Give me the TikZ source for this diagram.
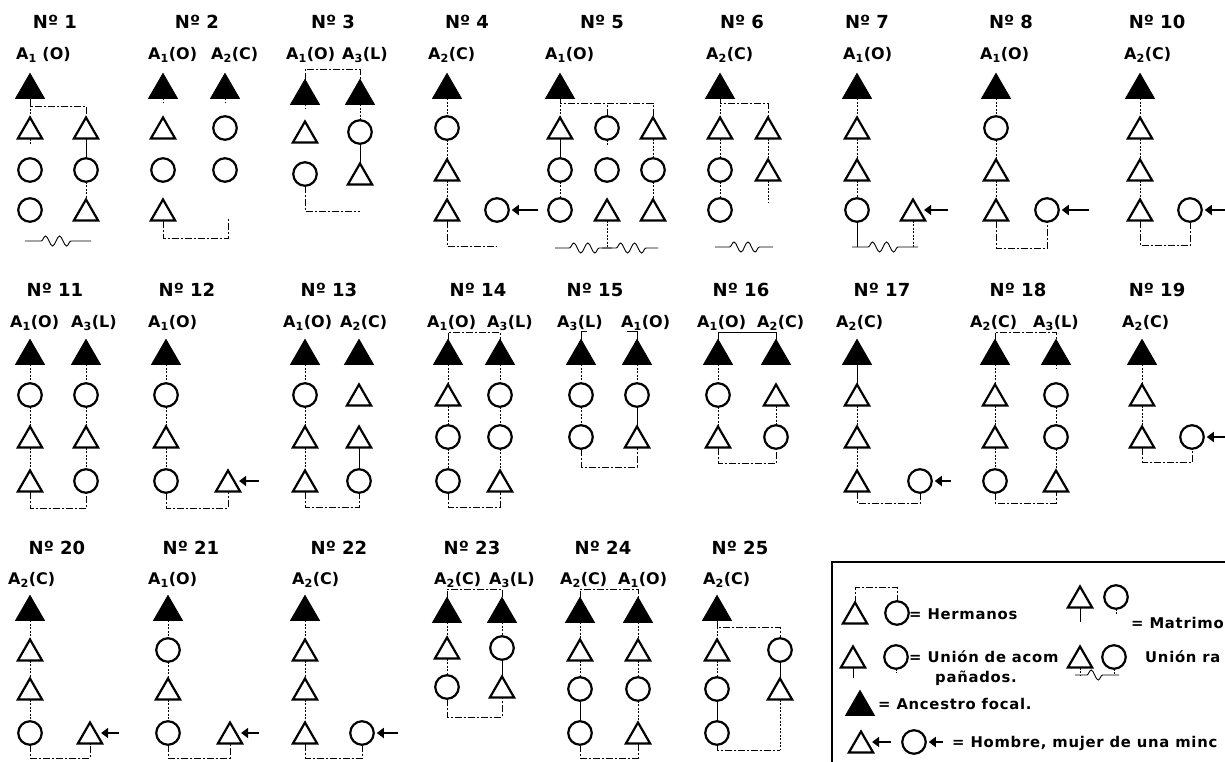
\documentclass[tikz,border=0pt]{standalone}
\usepackage{fontspec}
\setmainfont{DejaVu Sans}
\newfontfamily\legfont{DejaVu Sans}[LetterSpace=5]
\usetikzlibrary{shapes.geometric,arrows.meta,calc,decorations.pathmorphing}
\newcommand\wavyu[3]{%
  \draw[wv] ($(#1.south |- 0,#3)+(-5,0)$) -- ($(#1.south |- 0,#3)!0.2!(#2.south |- 0,#3)$)
    decorate[decoration={snake,amplitude=5pt,segment length=14pt}] {-- ($(#1.south |- 0,#3)!0.85!(#2.south |- 0,#3)$)}
    -- ($(#2.south |- 0,#3)+(5,0)$);}
\begin{document}
\begin{tikzpicture}[x=1pt,y=-1pt,
  fa/.style={regular polygon, regular polygon sides=3, fill=black, draw=black, line width=1pt, minimum size=33pt, inner sep=0pt, outer sep=0pt, yshift=-4.1pt},
  ta/.style={regular polygon, regular polygon sides=3, draw=black, line width=2.2pt, minimum size=28pt, inner sep=0pt, outer sep=0pt, yshift=-3.5pt},
  ci/.style={circle, draw=black, line width=2.2pt, minimum size=23.5pt, inner sep=0pt, outer sep=0pt},
  hdr/.style={font=\fontsize{18}{20}\selectfont\bfseries, inner sep=0pt},
  lab/.style={font=\fontsize{16}{18}\selectfont\bfseries, anchor=west, inner sep=0pt},
  leg/.style={font=\legfont\fontsize{14.8}{16}\selectfont\bfseries, anchor=west, inner sep=0pt},
  desc/.style={line width=0.7pt, dash pattern=on 2pt off 1.5pt},
  sol/.style={line width=0.8pt},
  tie/.style={line width=0.8pt, dash pattern=on 7pt off 2pt on 2pt off 2pt},
  wv/.style={line width=0.9pt},
  arr/.style={line width=2.6pt, -{Triangle[length=7pt,width=10pt]}, shorten >=3pt},
  box/.style={line width=1.3pt}]
\useasboundingbox (0,0) rectangle (1225,761);
\clip (0,0) rectangle (1225,761);
\fill[white] (0,0) rectangle (1225,761);

% ---------------- Row 1 ----------------
% N1
\node[hdr] (h1) at (55,22) {Nº 1};
\node[lab] (l1a) at (16,55) {A\textsubscript{1} (O)};
\node[fa] (d1a0) at (30,86) {};
\node[ta] (d1a1) at (30,128) {};
\node[ci] (d1a2) at (30,170) {};
\node[ci] (d1a3) at (30,210) {};
\node[ta] (d1b1) at (86,128) {};
\node[ci] (d1b2) at (86,170) {};
\node[ta] (d1b3) at (86,210) {};
\draw[desc] (d1a0.south) -- (d1a1.north);
\draw[tie] (d1a0.south) |- (d1b1.north |- 0,106) -- (d1b1.north);
\draw[desc] (d1a1.south) -- ++(0,5);
\draw[sol] (d1b1.south) -- (d1b2.north);
\draw[desc] (d1b2.south) -- (d1b3.north);
\wavyu{d1a3}{d1b3}{241}

% N2
\node[hdr] (h2) at (197,22) {Nº 2};
\node[lab] (l2a) at (148,55) {A\textsubscript{1}(O)};
\node[lab] (l2b) at (211,55) {A\textsubscript{2}(C)};
\node[fa] (d2a0) at (163,86) {};
\node[ta] (d2a1) at (163,128) {};
\node[ci] (d2a2) at (163,170) {};
\node[ta] (d2a3) at (163,210) {};
\node[fa] (d2b0) at (225,86) {};
\node[ci] (d2b1) at (225,128) {};
\node[ci] (d2b2) at (225,170) {};
\draw[desc] (d2a0.south) -- ++(0,4);
\draw[desc] (d2b0.south) -- ++(0,4);
\coordinate (d2e) at (228,218);
\draw[tie] (d2a3.south) |- (d2e |- 0,238) -- (d2e);

% N3
\node[hdr] (h3) at (333,22) {Nº 3};
\node[lab] (l3a) at (286,55) {A\textsubscript{1}(O)};
\node[lab] (l3b) at (342,55) {A\textsubscript{3}(L)};
\node[fa] (d3a0) at (305,92) {};
\node[ta] (d3a1) at (305,132) {};
\node[ci] (d3a2) at (305,174) {};
\node[fa] (d3b0) at (360,92) {};
\node[ci] (d3b1) at (360,132) {};
\node[ta] (d3b2) at (360,174) {};
\draw[tie] (d3a0.north) |- (d3b0.north |- 0,69) -- (d3b0.north);
\draw[desc] (d3a0.south) -- ++(0,4);
\draw[desc] (d3b0.south) -- (d3b1.north);
\draw[sol] (d3b1.south) -- (d3b2.north);
\draw[tie] (d3a2.south) |- (d3b2.south |- 0,211);

% N4
\node[hdr] (h4) at (467,22) {Nº 4};
\node[lab] (l4a) at (428,55) {A\textsubscript{2}(C)};
\node[fa] (d4a0) at (447,86) {};
\node[ci] (d4a1) at (447,128) {};
\node[ta] (d4a2) at (447,170) {};
\node[ta] (d4a3) at (447,210) {};
\node[ci] (d4x) at (497,210) {};
\coordinate (d4t) at (538,210);
\draw[arr] (d4t) -- (d4t -| d4x.east);
\draw[desc] (d4a0.south) -- (d4a1.north);
\draw[desc] (d4a1.south) -- (d4a2.north);
\draw[desc] (d4a2.south) -- (d4a3.north);
\draw[tie] (d4a3.south) |- (d4x.south |- 0,246);

% N5
\node[hdr] (h5) at (602,22) {Nº 5};
\node[lab] (l5a) at (545,55) {A\textsubscript{1}(O)};
\node[fa] (d5a0) at (560,86) {};
\node[ta] (d5a1) at (560,128) {};
\node[ci] (d5a2) at (560,170) {};
\node[ci] (d5a3) at (560,210) {};
\node[ci] (d5b1) at (607,128) {};
\node[ci] (d5b2) at (607,170) {};
\node[ta] (d5b3) at (607,210) {};
\node[ta] (d5c1) at (653,128) {};
\node[ci] (d5c2) at (653,170) {};
\node[ta] (d5c3) at (653,210) {};
\draw[desc] (d5a0.south) -- (d5a1.north);
\draw[tie] (d5a0.south) |- (d5c1.north |- 0,103) -- (d5c1.north);
\draw[tie] (d5b1.north) -- (d5b1.north |- 0,103);
\draw[sol] (d5a1.south) -- (d5a2.north);
\draw[desc] (d5a2.south) -- (d5a3.north);
\draw[desc] (d5b1.south) -- ++(0,5);
\draw[desc] (d5c1.south) -- (d5c2.north);
\draw[desc] (d5c2.south) -- (d5c3.north);
\draw[desc] (d5b3.south) -- (d5b3.south |- 0,248);
\wavyu{d5a3}{d5b3}{248}
\wavyu{d5b3}{d5c3}{248}

% N6
\node[hdr] (h6) at (742,22) {Nº 6};
\node[lab] (l6a) at (706,55) {A\textsubscript{2}(C)};
\node[fa] (d6a0) at (720,86) {};
\node[ta] (d6a1) at (720,128) {};
\node[ci] (d6a2) at (720,170) {};
\node[ci] (d6a3) at (720,210) {};
\node[ta] (d6b1) at (768,128) {};
\node[ta] (d6b2) at (768,170) {};
\draw[tie] (d6a0.south) |- (d6b1.north |- 0,103) -- (d6b1.north);
\draw[desc] (d6a0.south) -- (d6a1.north);
\draw[desc] (d6a1.south) -- (d6a2.north);
\draw[desc] (d6a2.south) -- (d6a3.north);
\draw[desc] (d6b1.south) -- (d6b2.north);
\draw[desc] (d6b2.south) -- ++(0,22);
\wavyu{d6a3}{d6b2}{247}

% N7
\node[hdr] (h7) at (867,22) {Nº 7};
\node[lab] (l7a) at (843,55) {A\textsubscript{1}(O)};
\node[fa] (d7a0) at (857,86) {};
\node[ta] (d7a1) at (857,128) {};
\node[ta] (d7a2) at (857,170) {};
\node[ci] (d7a3) at (857,210) {};
\node[ta] (d7x) at (913,210) {};
\coordinate (d7t) at (948,210);
\draw[arr] (d7t) -- (d7t -| d7x.east);
\draw[desc] (d7a0.south) -- (d7a1.north);
\draw[desc] (d7a1.south) -- (d7a2.north);
\draw[desc] (d7a2.south) -- (d7a3.north);
\draw[sol] (d7a3.south) -- (d7a3.south |- 0,247);
\draw[desc] (d7x.south) -- (d7x.south |- 0,247);
\wavyu{d7a3}{d7x}{247}

% N8
\node[hdr] (h8) at (1011,22) {Nº 8};
\node[lab] (l8a) at (980,55) {A\textsubscript{1}(O)};
\node[fa] (d8a0) at (996,86) {};
\node[ci] (d8a1) at (996,128) {};
\node[ta] (d8a2) at (996,170) {};
\node[ta] (d8a3) at (996,210) {};
\node[ci] (d8x) at (1047,210) {};
\coordinate (d8t) at (1089,210);
\draw[arr] (d8t) -- (d8t -| d8x.east);
\draw[desc] (d8a0.south) -- (d8a1.north);
\draw[desc] (d8a1.south) -- (d8a2.north);
\draw[desc] (d8a2.south) -- (d8a3.north);
\draw[tie] (d8a3.south) |- (d8x.south |- 0,248) -- (d8x.south);

% N10
\node[hdr] (h10) at (1157,22) {Nº 10};
\node[lab] (l10a) at (1124,55) {A\textsubscript{2}(C)};
\node[fa] (d10a0) at (1140,86) {};
\node[ta] (d10a1) at (1140,128) {};
\node[ta] (d10a2) at (1140,170) {};
\node[ta] (d10a3) at (1140,210) {};
\node[ci] (d10x) at (1190,210) {};
\coordinate (d10t) at (1232,210);
\draw[arr] (d10t) -- (d10t -| d10x.east);
\draw[desc] (d10a0.south) -- (d10a1.north);
\draw[desc] (d10a1.south) -- (d10a2.north);
\draw[desc] (d10a2.south) -- (d10a3.north);
\draw[tie] (d10a3.south) |- (d10x.south |- 0,245) -- (d10x.south);

% ---------------- Row 2 ----------------
% N11
\node[hdr] (h11) at (55,290) {Nº 11};
\node[lab] (l11a) at (10,323) {A\textsubscript{1}(O)};
\node[lab] (l11b) at (71,323) {A\textsubscript{3}(L)};
\node[fa] (d11a0) at (30,352) {};
\node[ci] (d11a1) at (30,395) {};
\node[ta] (d11a2) at (30,437) {};
\node[ta] (d11a3) at (30,481) {};
\node[fa] (d11b0) at (86,352) {};
\node[ci] (d11b1) at (86,395) {};
\node[ta] (d11b2) at (86,437) {};
\node[ci] (d11b3) at (86,481) {};
\draw[desc] (d11a0.south) -- (d11a1.north);
\draw[desc] (d11a1.south) -- (d11a2.north);
\draw[desc] (d11a2.south) -- (d11a3.north);
\draw[desc] (d11b0.south) -- (d11b1.north);
\draw[desc] (d11b1.south) -- (d11b2.north);
\draw[desc] (d11b2.south) -- (d11b3.north);
\draw[tie] (d11a3.south) |- (d11b3.south |- 0,508) -- (d11b3.south);

% N12
\node[hdr] (h12) at (187,290) {Nº 12};
\node[lab] (l12a) at (148,323) {A\textsubscript{1}(O)};
\node[fa] (d12a0) at (166,352) {};
\node[ci] (d12a1) at (166,395) {};
\node[ta] (d12a2) at (166,437) {};
\node[ci] (d12a3) at (166,481) {};
\node[ta] (d12x) at (228,481) {};
\coordinate (d12t) at (259,481);
\draw[arr] (d12t) -- (d12t -| d12x.east);
\draw[desc] (d12a0.south) -- (d12a1.north);
\draw[desc] (d12a1.south) -- (d12a2.north);
\draw[desc] (d12a2.south) -- (d12a3.north);
\draw[tie] (d12a3.south) |- (d12x.south |- 0,508) -- (d12x.south);

% N13
\node[hdr] (h13) at (329,290) {Nº 13};
\node[lab] (l13a) at (283,323) {A\textsubscript{1}(O)};
\node[lab] (l13b) at (340,323) {A\textsubscript{2}(C)};
\node[fa] (d13a0) at (305,352) {};
\node[ci] (d13a1) at (305,395) {};
\node[ta] (d13a2) at (305,437) {};
\node[ta] (d13a3) at (305,481) {};
\node[fa] (d13b0) at (359,352) {};
\node[ta] (d13b1) at (359,395) {};
\node[ta] (d13b2) at (359,437) {};
\node[ci] (d13b3) at (359,481) {};
\draw[desc] (d13a0.south) -- (d13a1.north);
\draw[desc] (d13a1.south) -- (d13a2.north);
\draw[desc] (d13a2.south) -- (d13a3.north);
\draw[sol] (d13b2.south) -- (d13b3.north);
\draw[tie] (d13a3.south) |- (d13b3.south |- 0,507) -- (d13b3.south);

% N14
\node[hdr] (h14) at (478,290) {Nº 14};
\node[lab] (l14a) at (427,323) {A\textsubscript{1}(O)};
\node[lab] (l14b) at (487,323) {A\textsubscript{3}(L)};
\node[fa] (d14a0) at (448,352) {};
\node[ta] (d14a1) at (448,395) {};
\node[ci] (d14a2) at (448,437) {};
\node[ci] (d14a3) at (448,481) {};
\node[fa] (d14b0) at (500,352) {};
\node[ci] (d14b1) at (500,395) {};
\node[ci] (d14b2) at (500,437) {};
\node[ta] (d14b3) at (500,481) {};
\draw[tie] (d14a0.north) |- (d14b0.north |- 0,332) -- (d14b0.north);
\draw[desc] (d14a0.south) -- (d14a1.north);
\draw[desc] (d14a1.south) -- (d14a2.north);
\draw[desc] (d14a2.south) -- (d14a3.north);
\draw[desc] (d14b0.south) -- (d14b1.north);
\draw[desc] (d14b1.south) -- (d14b2.north);
\draw[desc] (d14b2.south) -- (d14b3.north);
\draw[tie] (d14a3.south) |- (d14b3.south |- 0,507) -- (d14b3.south);

% N15
\node[hdr] (h15) at (595,290) {Nº 15};
\node[lab] (l15a) at (557,323) {A\textsubscript{3}(L)};
\node[lab] (l15b) at (621,323) {A\textsubscript{1}(O)};
\node[fa] (d15a0) at (581,352) {};
\node[ci] (d15a1) at (581,395) {};
\node[ci] (d15a2) at (581,437) {};
\node[fa] (d15b0) at (637,352) {};
\node[ci] (d15b1) at (637,395) {};
\node[ta] (d15b2) at (637,437) {};
\draw[sol] (d15a0.north) -- ++(0,-8) -- ++(6,0);
\draw[sol] (d15b0.north) -- ++(0,-8) -- ++(-10,0);
\draw[desc] (d15a0.south) -- (d15a1.north);
\draw[desc] (d15a1.south) -- (d15a2.north);
\draw[desc] (d15b0.south) -- (d15b1.north);
\draw[sol] (d15b1.south) -- (d15b2.north);
\draw[tie] (d15a2.south) |- (d15b2.south |- 0,467) -- (d15b2.south);

% N16
\node[hdr] (h16) at (741,290) {Nº 16};
\node[lab] (l16a) at (697,323) {A\textsubscript{1}(O)};
\node[lab] (l16b) at (757,323) {A\textsubscript{2}(C)};
\node[fa] (d16a0) at (718,352) {};
\node[ci] (d16a1) at (718,395) {};
\node[ta] (d16a2) at (718,437) {};
\node[fa] (d16b0) at (776,352) {};
\node[ta] (d16b1) at (776,395) {};
\node[ci] (d16b2) at (776,437) {};
\draw[sol] (d16a0.north) |- (d16b0.north |- 0,332) -- (d16b0.north);
\draw[desc] (d16a0.south) -- (d16a1.north);
\draw[desc] (d16a1.south) -- (d16a2.north);
\draw[desc] (d16b1.south) -- (d16b2.north);
\draw[tie] (d16a2.south) |- (d16b2.south |- 0,463) -- (d16b2.south);

% N17
\node[hdr] (h17) at (882,290) {Nº 17};
\node[lab] (l17a) at (836,323) {A\textsubscript{2}(C)};
\node[fa] (d17a0) at (857,352) {};
\node[ta] (d17a1) at (857,395) {};
\node[ta] (d17a2) at (857,437) {};
\node[ta] (d17a3) at (857,481) {};
\node[ci] (d17x) at (920,481) {};
\coordinate (d17t) at (951,481);
\draw[arr] (d17t) -- (d17t -| d17x.east);
\draw[sol] (d17a0.south) -- (d17a1.north);
\draw[desc] (d17a1.south) -- (d17a2.north);
\draw[desc] (d17a2.south) -- (d17a3.north);
\draw[tie] (d17a3.south) |- (d17x.south |- 0,503) -- (d17x.south);

% N18
\node[hdr] (h18) at (1018,290) {Nº 18};
\node[lab] (l18a) at (970,323) {A\textsubscript{2}(C)};
\node[lab] (l18b) at (1033,323) {A\textsubscript{3}(L)};
\node[fa] (d18a0) at (995,352) {};
\node[ta] (d18a1) at (995,395) {};
\node[ta] (d18a2) at (995,437) {};
\node[ci] (d18a3) at (995,481) {};
\node[fa] (d18b0) at (1056,352) {};
\node[ci] (d18b1) at (1056,395) {};
\node[ci] (d18b2) at (1056,437) {};
\node[ta] (d18b3) at (1056,481) {};
\draw[tie] (d18a0.north) |- (d18b0.north |- 0,332) -- (d18b0.north);
\draw[desc] (d18a0.south) -- (d18a1.north);
\draw[desc] (d18a1.south) -- (d18a2.north);
\draw[desc] (d18a2.south) -- (d18a3.north);
\draw[desc] (d18b0.south) -- ++(0,4);
\draw[desc] (d18b1.south) -- (d18b2.north);
\draw[desc] (d18b2.south) -- (d18b3.north);
\draw[tie] (d18a3.south) |- (d18b3.south |- 0,503) -- (d18b3.south);

% N19
\node[hdr] (h19) at (1157,290) {Nº 19};
\node[lab] (l19a) at (1122,323) {A\textsubscript{2}(C)};
\node[fa] (d19a0) at (1142,352) {};
\node[ta] (d19a1) at (1142,395) {};
\node[ta] (d19a2) at (1142,437) {};
\node[ci] (d19x) at (1192,437) {};
\coordinate (d19t) at (1228,437);
\draw[arr] (d19t) -- (d19t -| d19x.east);
\draw[desc] (d19a0.south) -- (d19a1.north);
\draw[desc] (d19a1.south) -- (d19a2.north);
\draw[tie] (d19a2.south) |- (d19x.south |- 0,462) -- (d19x.south);

% ---------------- Row 3 ----------------
% N20
\node[hdr] (h20) at (57,548) {Nº 20};
\node[lab] (l20a) at (8,580) {A\textsubscript{2}(C)};
\node[fa] (d20a0) at (30,608) {};
\node[ta] (d20a1) at (30,650) {};
\node[ta] (d20a2) at (30,689) {};
\node[ci] (d20a3) at (30,733) {};
\node[ta] (d20x) at (90,733) {};
\coordinate (d20t) at (119,733);
\draw[arr] (d20t) -- (d20t -| d20x.east);
\draw[desc] (d20a0.south) -- (d20a1.north);
\draw[desc] (d20a1.south) -- (d20a2.north);
\draw[desc] (d20a2.south) -- (d20a3.north);
\draw[tie] (d20a3.south) |- (d20x.south |- 0,758) -- (d20x.south);

% N21
\node[hdr] (h21) at (191,548) {Nº 21};
\node[lab] (l21a) at (148,580) {A\textsubscript{1}(O)};
\node[fa] (d21a0) at (168,608) {};
\node[ci] (d21a1) at (168,650) {};
\node[ta] (d21a2) at (168,689) {};
\node[ci] (d21a3) at (168,733) {};
\node[ta] (d21x) at (230,733) {};
\coordinate (d21t) at (259,733);
\draw[arr] (d21t) -- (d21t -| d21x.east);
\draw[desc] (d21a0.south) -- (d21a1.north);
\draw[desc] (d21a1.south) -- (d21a2.north);
\draw[desc] (d21a2.south) -- (d21a3.north);
\draw[tie] (d21a3.south) |- (d21x.south |- 0,758) -- (d21x.south);

% N22
\node[hdr] (h22) at (339,548) {Nº 22};
\node[lab] (l22a) at (292,580) {A\textsubscript{2}(C)};
\node[fa] (d22a0) at (305,608) {};
\node[ta] (d22a1) at (305,650) {};
\node[ta] (d22a2) at (305,689) {};
\node[ta] (d22a3) at (305,733) {};
\node[ci] (d22x) at (362,733) {};
\coordinate (d22t) at (398,733);
\draw[arr] (d22t) -- (d22t -| d22x.east);
\draw[desc] (d22a0.south) -- (d22a1.north);
\draw[desc] (d22a1.south) -- (d22a2.north);
\draw[desc] (d22a2.south) -- (d22a3.north);
\draw[tie] (d22a3.south) |- (d22x.south |- 0,758) -- (d22x.south);

% N23
\node[hdr] (h23) at (472,548) {Nº 23};
\node[lab] (l23a) at (434,580) {A\textsubscript{2}(C)};
\node[lab] (l23b) at (489,580) {A\textsubscript{3}(L)};
\node[fa] (d23a0) at (447,610) {};
\node[ta] (d23a1) at (447,648) {};
\node[ci] (d23a2) at (447,687) {};
\node[fa] (d23b0) at (502,610) {};
\node[ci] (d23b1) at (502,648) {};
\node[ta] (d23b2) at (502,687) {};
\draw[tie] (d23a0.north) |- (d23b0.north |- 0,589) -- (d23b0.north);
\draw[desc] (d23a0.south) -- (d23a1.north);
\draw[desc] (d23a1.south) -- (d23a2.north);
\draw[desc] (d23b0.south) -- (d23b1.north);
\draw[sol] (d23b1.south) -- (d23b2.north);
\draw[tie] (d23a2.south) |- (d23b2.south |- 0,717) -- (d23b2.south);

% N24
\node[hdr] (h24) at (603,548) {Nº 24};
\node[lab] (l24a) at (560,580) {A\textsubscript{2}(C)};
\node[lab] (l24b) at (618,580) {A\textsubscript{1}(O)};
\node[fa] (d24a0) at (580,610) {};
\node[ta] (d24a1) at (580,650) {};
\node[ci] (d24a2) at (580,689) {};
\node[ci] (d24a3) at (580,733) {};
\node[fa] (d24b0) at (638,610) {};
\node[ta] (d24b1) at (638,650) {};
\node[ci] (d24b2) at (638,689) {};
\node[ta] (d24b3) at (638,733) {};
\draw[tie] (d24a0.north) |- (d24b0.north |- 0,589) -- (d24b0.north);
\draw[desc] (d24a0.south) -- (d24a1.north);
\draw[desc] (d24a1.south) -- (d24a2.north);
\draw[sol] (d24a2.south) -- (d24a3.north);
\draw[desc] (d24b0.south) -- (d24b1.north);
\draw[desc] (d24b1.south) -- (d24b2.north);
\draw[desc] (d24b2.south) -- (d24b3.north);
\draw[tie] (d24a3.south) |- (d24b3.south |- 0,758) -- (d24b3.south);

% N25
\node[hdr] (h25) at (740,548) {Nº 25};
\node[lab] (l25a) at (703,580) {A\textsubscript{2}(C)};
\node[fa] (d25a0) at (717,608) {};
\node[ta] (d25a1) at (717,650) {};
\node[ci] (d25a2) at (717,689) {};
\node[ci] (d25a3) at (717,733) {};
\node[ci] (d25b1) at (780,650) {};
\node[ta] (d25b2) at (780,689) {};
\draw[desc] (d25a0.south) -- (d25a1.north);
\draw[tie] (d25a0.south) |- (d25b1.north |- 0,627) -- (d25b1.north);
\draw[desc] (d25a1.south) -- (d25a2.north);
\draw[sol] (d25a2.south) -- (d25a3.north);
\draw[sol] (d25b1.south) -- (d25b2.north);
\draw[desc] (d25b2.south) -- (d25b2.south |- 0,750);
\draw[tie] (d25a3.south) |- (d25b2.south |- 0,750);

% ---------------- Legend ----------------
\draw[box] (1232,562) -- (832,562) -- (832,770);
\node[ta] (gT1) at (855,613) {};
\node[ci] (gC1) at (897,613) {};
\draw[tie] (gT1.north) |- (gC1.north |- 0,587) -- (gC1.north);
\node[leg] (gt1) at (909,614) {= Hermanos};
\node[ta] (gT2) at (1080,597) {};
\node[ci] (gC2) at (1116,597) {};
\draw[sol] (gT2.south) -- ++(0,14);
\draw[desc] (gC2.south) -- ++(0,6);
\node[leg] (gt2) at (1131,623) {= Matrimo};
\node[ta] (gT3) at (853,657) {};
\node[ci] (gC3) at (896,657) {};
\draw[sol] (gT3.south) -- ++(0,10);
\draw[desc] (gC3.south) -- ++(0,4);
\node[leg] (gt3) at (909,657) {= Unión de acom};
\node[leg] (gt3b) at (935,678) {pañados.};
\node[ta] (gT4) at (1080,657) {};
\node[ci] (gC4) at (1114,657) {};
\draw[desc] (gT4.south) -- ++(0,8);
\draw[desc] (gC4.south) -- ++(0,6);
\wavyu{gT4}{gC4}{675}
\node[leg] (gt4) at (1145,657) {Unión ra};
\node[fa] (gF) at (860,703) {};
\node[leg] (gt5) at (878,704) {= Ancestro focal.};
\node[ta] (gT5) at (861,742) {};
\coordinate (gA1) at (891,742);
\draw[arr] (gA1) -- (gA1 -| gT5.east);
\node[ci] (gC5) at (914,742) {};
\coordinate (gA2) at (943,742);
\draw[arr] (gA2) -- (gA2 -| gC5.east);
\node[leg] (gt6) at (952,743) {= Hombre, mujer de una minc};
\end{tikzpicture}
\end{document}
